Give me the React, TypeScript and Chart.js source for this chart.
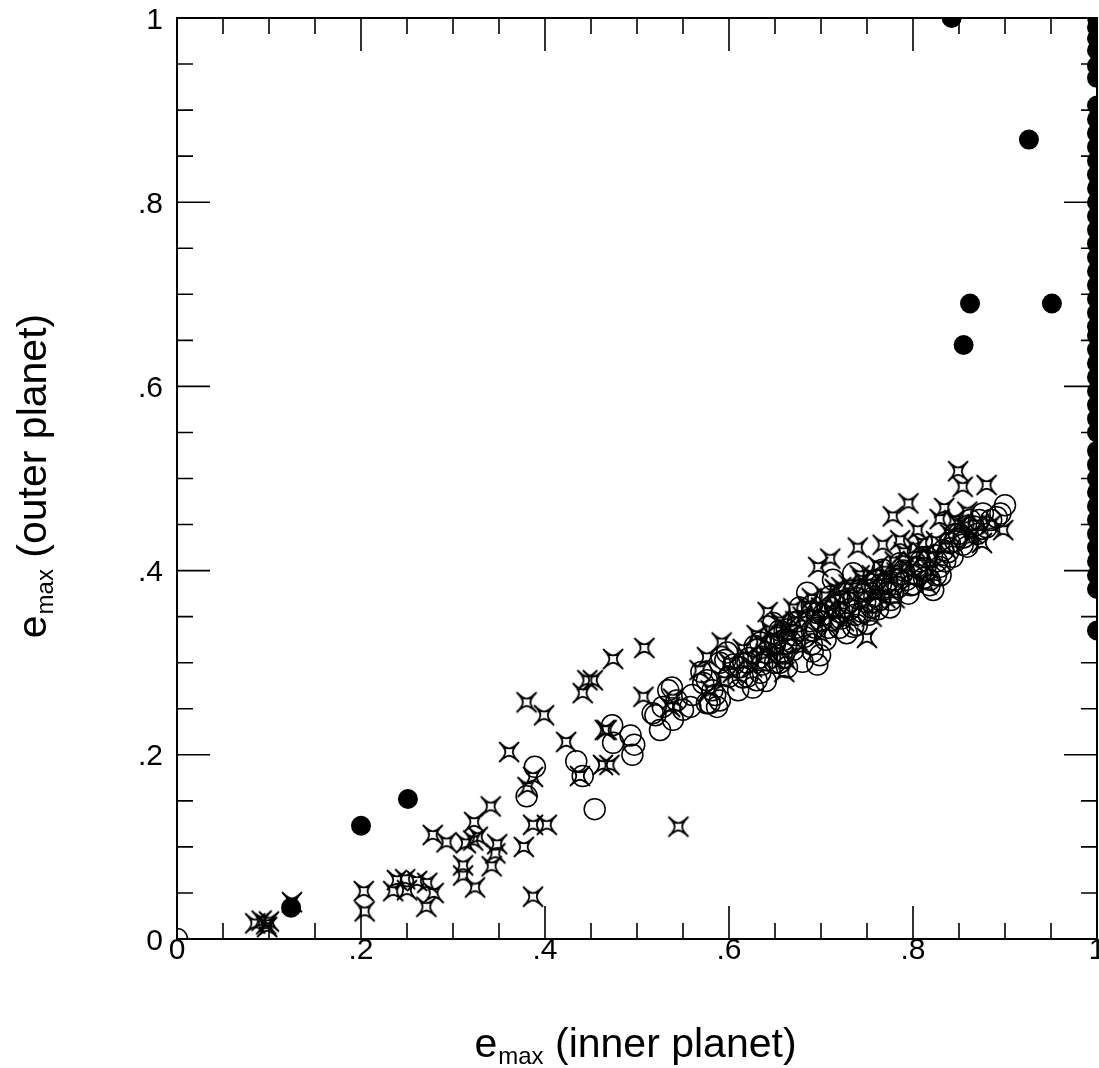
import React, { useEffect, useRef } from 'react';
import { Chart, registerables } from 'chart.js';

Chart.register(...registerables);

const TICK_VALUES = [0, 0.2, 0.4, 0.6, 0.8, 1];
const TICK_LABELS = ['0', '.2', '.4', '.6', '.8', '1'];
const X_TITLE = ['e', 'max', ' (inner planet)'];
const Y_TITLE = ['e', 'max', ' (outer planet)'];

// filled black circles
const solidCircleX = [
  0.124, 0.200, 0.251, 0.842, 0.926, 0.862, 0.855, 0.951,
  1, 1, 1, 1, 1, 1, 1, 1, 1, 1, 1, 1, 1, 1,
  1, 1, 1, 1, 1, 1, 1, 1, 1, 1, 1, 1, 1, 1,
  1, 1, 1, 1, 1, 1, 1, 1, 1, 1, 1, 1, 1, 1,
  1,
];
const solidCircleY = [
  0.034, 0.123, 0.152, 1.000, 0.868, 0.690, 0.645, 0.690,
  1.0, 0.99, 0.978, 0.965, 0.948, 0.935, 0.905, 0.89, 0.875, 0.86, 0.845, 0.83, 0.815, 0.80,
  0.785, 0.77, 0.755, 0.74, 0.725, 0.71, 0.695, 0.68, 0.665, 0.655, 0.64, 0.625, 0.61, 0.595,
  0.58, 0.565, 0.55, 0.53, 0.515, 0.50, 0.485, 0.47, 0.455, 0.44, 0.425, 0.41, 0.395, 0.38,
  0.335,
];

// open circles
const openCircleX = [
  0.000, 0.380, 0.389, 0.434, 0.441, 0.454, 0.473, 0.474, 0.493, 0.495,
  0.497, 0.517, 0.520, 0.525, 0.528, 0.534, 0.538, 0.539, 0.543, 0.550,
  0.558, 0.572, 0.576, 0.576, 0.579, 0.582, 0.585, 0.587, 0.590, 0.596,
  0.598, 0.612, 0.615, 0.620, 0.626, 0.630, 0.634, 0.634, 0.641, 0.641,
  0.648, 0.663, 0.663, 0.670, 0.677, 0.680, 0.685, 0.691, 0.696, 0.696,
  0.713, 0.713, 0.728, 0.735, 0.735, 0.750, 0.764, 0.767, 0.775, 0.778,
  0.786, 0.793, 0.804, 0.815, 0.818, 0.822, 0.829, 0.833, 0.843, 0.859,
  0.862, 0.876, 0.880, 0.891, 0.895, 0.900,
  0.650, 0.660, 0.670, 0.690, 0.700, 0.710, 0.720, 0.730, 0.740, 0.745,
  0.755, 0.760, 0.770, 0.780, 0.790, 0.800, 0.810, 0.825, 0.840, 0.850,
  0.870, 0.885, 0.720, 0.705, 0.690, 0.660, 0.650, 0.600, 0.610, 0.560,
  0.570, 0.590, 0.620, 0.640, 0.655, 0.675, 0.725, 0.755, 0.765, 0.795,
  0.805, 0.830, 0.835, 0.699, 0.739, 0.818, 0.854,
  0.622, 0.628, 0.636, 0.645, 0.652, 0.658, 0.668, 0.673, 0.682, 0.688,
  0.694, 0.702, 0.708, 0.716, 0.722, 0.731, 0.737, 0.742, 0.748, 0.752,
  0.758, 0.762, 0.772, 0.776, 0.784, 0.788, 0.798, 0.808, 0.812, 0.826,
  0.838, 0.846, 0.855, 0.866, 0.872, 0.710, 0.690, 0.655, 0.632, 0.605,
];
const openCircleY = [
  0.000, 0.155, 0.187, 0.193, 0.177, 0.141, 0.232, 0.213, 0.221, 0.200,
  0.211, 0.245, 0.243, 0.227, 0.252, 0.270, 0.273, 0.238, 0.259, 0.249,
  0.252, 0.278, 0.281, 0.256, 0.256, 0.270, 0.265, 0.252, 0.259, 0.303,
  0.311, 0.295, 0.284, 0.285, 0.273, 0.281, 0.289, 0.322, 0.303, 0.311,
  0.343, 0.295, 0.336, 0.314, 0.360, 0.301, 0.376, 0.312, 0.298, 0.354,
  0.346, 0.390, 0.332, 0.339, 0.397, 0.379, 0.368, 0.401, 0.360, 0.376,
  0.408, 0.390, 0.404, 0.415, 0.390, 0.379, 0.404, 0.422, 0.415, 0.426,
  0.455, 0.462, 0.447, 0.458, 0.462, 0.471,
  0.320, 0.325, 0.330, 0.335, 0.345, 0.360, 0.355, 0.365, 0.370, 0.355,
  0.385, 0.390, 0.380, 0.390, 0.400, 0.385, 0.400, 0.395, 0.430, 0.440,
  0.440, 0.455, 0.338, 0.325, 0.320, 0.310, 0.300, 0.285, 0.270, 0.265,
  0.290, 0.300, 0.300, 0.280, 0.335, 0.345, 0.375, 0.360, 0.385, 0.375,
  0.395, 0.395, 0.410, 0.308, 0.341, 0.384, 0.428,
  0.305, 0.318, 0.298, 0.318, 0.327, 0.312, 0.322, 0.338, 0.328, 0.345,
  0.338, 0.352, 0.338, 0.362, 0.348, 0.358, 0.352, 0.378, 0.366, 0.352,
  0.372, 0.358, 0.388, 0.368, 0.382, 0.396, 0.384, 0.410, 0.392, 0.410,
  0.420, 0.432, 0.436, 0.448, 0.455, 0.372, 0.362, 0.300, 0.305, 0.298,
];

// four-point stars
const starX = [
  0.085, 0.092, 0.097, 0.100, 0.098, 0.125, 0.203, 0.204, 0.235, 0.239,
  0.248, 0.250, 0.261, 0.272, 0.279, 0.271, 0.278, 0.293, 0.311, 0.311,
  0.324, 0.314, 0.322, 0.327, 0.323, 0.341, 0.348, 0.346, 0.342, 0.377,
  0.387, 0.387, 0.402, 0.361, 0.380, 0.399, 0.387, 0.381, 0.423, 0.441,
  0.446, 0.452, 0.474, 0.465, 0.463, 0.470, 0.438, 0.508, 0.507, 0.545,
  0.467, 0.592, 0.576, 0.568, 0.604, 0.620, 0.536, 0.539, 0.642, 0.670,
  0.697, 0.710, 0.740, 0.750, 0.767, 0.778, 0.786, 0.795, 0.805, 0.829,
  0.834, 0.849, 0.854, 0.859, 0.880, 0.898,
  0.630, 0.645, 0.655, 0.665, 0.680, 0.690, 0.700, 0.715, 0.720, 0.730,
  0.745, 0.755, 0.760, 0.770, 0.780, 0.790, 0.800, 0.810, 0.820, 0.840,
  0.850, 0.865, 0.870, 0.875, 0.815, 0.780, 0.730, 0.700, 0.660, 0.640,
  0.625, 0.600, 0.580, 0.595,
  0.615, 0.635, 0.650, 0.662, 0.672, 0.685, 0.692, 0.705, 0.712, 0.722,
  0.735, 0.742, 0.752, 0.762, 0.772, 0.782, 0.792, 0.802, 0.812, 0.825,
  0.835, 0.845, 0.856, 0.862, 0.885, 0.745, 0.725, 0.705, 0.678, 0.648,
  0.660, 0.755, 0.800, 0.820, 0.770,
];
const starY = [
  0.017, 0.020, 0.016, 0.019, 0.013, 0.040, 0.052, 0.030, 0.052, 0.064,
  0.065, 0.053, 0.063, 0.061, 0.050, 0.035, 0.113, 0.105, 0.080, 0.069,
  0.056, 0.104, 0.107, 0.111, 0.127, 0.144, 0.103, 0.093, 0.079, 0.100,
  0.046, 0.124, 0.124, 0.203, 0.257, 0.243, 0.176, 0.165, 0.214, 0.267,
  0.281, 0.281, 0.304, 0.227, 0.189, 0.189, 0.177, 0.316, 0.263, 0.122,
  0.227, 0.322, 0.306, 0.292, 0.289, 0.306, 0.252, 0.261, 0.355, 0.359,
  0.404, 0.413, 0.425, 0.327, 0.428, 0.459, 0.433, 0.473, 0.444, 0.456,
  0.468, 0.508, 0.491, 0.464, 0.493, 0.444,
  0.330, 0.335, 0.345, 0.330, 0.350, 0.370, 0.360, 0.380, 0.370, 0.385,
  0.390, 0.395, 0.375, 0.400, 0.410, 0.420, 0.410, 0.430, 0.415, 0.440,
  0.450, 0.440, 0.450, 0.430, 0.385, 0.370, 0.350, 0.330, 0.305, 0.310,
  0.295, 0.300, 0.270, 0.280,
  0.315, 0.322, 0.325, 0.338, 0.345, 0.362, 0.352, 0.372, 0.355, 0.382,
  0.372, 0.395, 0.382, 0.405, 0.392, 0.398, 0.405, 0.425, 0.418, 0.432,
  0.425, 0.455, 0.448, 0.435, 0.450, 0.365, 0.345, 0.345, 0.320, 0.305,
  0.290, 0.350, 0.390, 0.400, 0.370,
];

const FONT = '"Liberation Sans", Arial, Helvetica, sans-serif';

function makeStar(): HTMLCanvasElement {
  const c = document.createElement('canvas');
  const s = 26;
  c.width = s;
  c.height = s;
  const g = c.getContext('2d') as CanvasRenderingContext2D;
  g.translate(s / 2, s / 2);
  const t = 9.5;
  const a = 1.8;
  g.beginPath();
  g.moveTo(-t, -t);
  g.bezierCurveTo(-a, -a, a, -a, t, -t);
  g.bezierCurveTo(a, -a, a, a, t, t);
  g.bezierCurveTo(a, a, -a, a, -t, t);
  g.bezierCurveTo(-a, a, -a, -a, -t, -t);
  g.closePath();
  g.lineWidth = 1.8;
  g.lineJoin = 'round';
  g.strokeStyle = '#000';
  g.stroke();
  return c;
}

function toPoints(xs: number[], ys: number[]) {
  return xs.map((x, i) => ({ x, y: ys[i] }));
}

const framePlugin = {
  id: 'framePlugin',
  afterDraw(chart: any) {
    const ctx = chart.ctx as CanvasRenderingContext2D;
    const { left, right, top, bottom } = chart.chartArea;
    const xs = chart.scales.x;
    const ys = chart.scales.y;
    ctx.save();
    ctx.strokeStyle = '#000';
    ctx.lineWidth = 2;
    ctx.lineCap = 'butt';
    ctx.strokeRect(left, top, right - left, bottom - top);
    ctx.lineWidth = 1.6;
    for (let i = 0; i <= 20; i++) {
      const v = i / 20;
      const len = i % 4 === 0 ? 33 : 16;
      const px = xs.getPixelForValue(v);
      const py = ys.getPixelForValue(v);
      ctx.beginPath();
      ctx.moveTo(px, bottom);
      ctx.lineTo(px, bottom - len);
      ctx.moveTo(px, top);
      ctx.lineTo(px, top + len);
      ctx.moveTo(left, py);
      ctx.lineTo(left + len, py);
      ctx.moveTo(right, py);
      ctx.lineTo(right - len, py);
      ctx.stroke();
    }
    // tick labels
    ctx.fillStyle = '#000';
    ctx.font = `30px ${FONT}`;
    ctx.textBaseline = 'alphabetic';
    TICK_VALUES.forEach((v, i) => {
      ctx.textAlign = 'center';
      ctx.fillText(TICK_LABELS[i], xs.getPixelForValue(v), bottom + 20);
      ctx.textAlign = 'right';
      ctx.fillText(TICK_LABELS[i], left - 14, ys.getPixelForValue(v) + 10.5);
    });
    // axis titles
    const big = `41px ${FONT}`;
    const small = `24px ${FONT}`;
    const measure = (parts: string[]) => {
      ctx.font = big;
      const a = ctx.measureText(parts[0]).width;
      const c = ctx.measureText(parts[2]).width;
      ctx.font = small;
      const b = ctx.measureText(parts[1]).width;
      return [a, b, c];
    };
    const drawTitle = (parts: string[], cx: number, base: number) => {
      const [a, b, c] = measure(parts);
      let x = cx - (a + b + c) / 2;
      ctx.textAlign = 'left';
      ctx.font = big;
      ctx.fillText(parts[0], x, base);
      x += a + 1;
      ctx.font = small;
      ctx.fillText(parts[1], x, base + 7);
      x += b;
      ctx.font = big;
      ctx.fillText(parts[2], x, base);
    };
    drawTitle(X_TITLE, (left + right) / 2 - 2, 1057);
    ctx.save();
    ctx.translate(46, (top + bottom) / 2 - 2);
    ctx.rotate(-Math.PI / 2);
    drawTitle(Y_TITLE, 0, 0);
    ctx.restore();
    ctx.restore();
  },
};

export default function App() {
  const ref = useRef<HTMLCanvasElement>(null);
  useEffect(() => {
    if (!ref.current) return;
    const star = makeStar();
    const chart = new Chart(ref.current, {
      type: 'scatter',
      data: {
        datasets: [
          {
            label: 'solid',
            data: toPoints(solidCircleX, solidCircleY),
            pointStyle: 'circle',
            pointRadius: 10,
            backgroundColor: '#000',
            borderColor: '#000',
            borderWidth: 0,
            clip: 0,
          },
          {
            label: 'star',
            data: toPoints(starX, starY),
            pointStyle: star as any,
            pointRadius: 10,
            clip: 0,
          },
          {
            label: 'open',
            data: toPoints(openCircleX, openCircleY),
            pointStyle: 'circle',
            pointRadius: 10.5,
            backgroundColor: 'rgba(0,0,0,0)',
            borderColor: '#000',
            borderWidth: 1.5,
            clip: 0,
          },
        ],
      },
      options: {
        responsive: false,
        animation: false,
        events: [],
        layout: { autoPadding: false, padding: { top: 18, right: 2, left: 0, bottom: 0 } },
        plugins: { legend: { display: false }, tooltip: { enabled: false } },
        scales: {
          x: {
            type: 'linear',
            min: 0,
            max: 1,
            grid: { display: false },
            border: { display: false },
            ticks: { display: false, stepSize: 0.2 },
            afterFit: (s: any) => {
              s.height = 129;
            },
          },
          y: {
            type: 'linear',
            min: 0,
            max: 1,
            grid: { display: false },
            border: { display: false },
            ticks: { display: false, stepSize: 0.2 },
            afterFit: (s: any) => {
              s.width = 177;
            },
          },
        },
      } as any,
      plugins: [framePlugin],
    });
    return () => chart.destroy();
  }, []);
  return (
    <div style={{ position: 'fixed', left: 0, top: 0, width: 1099, height: 1068, background: '#fff' }}>
      <canvas ref={ref} width={1099} height={1068} style={{ display: 'block' }} />
    </div>
  );
}
